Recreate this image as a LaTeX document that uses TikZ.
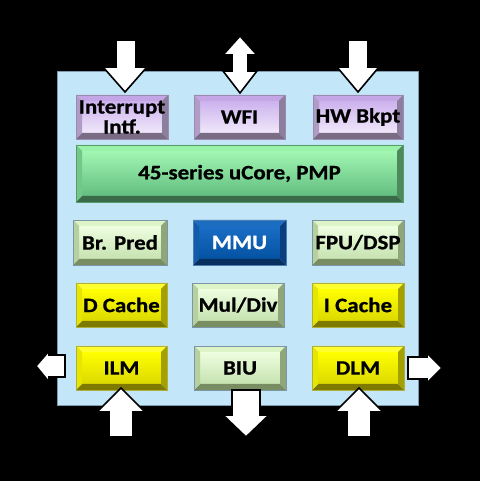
\documentclass[tikz,border=0pt]{standalone}
\usepackage{fontspec}
\setmainfont{Carlito}[FakeStretch=1.12, BoldFeatures={FakeBold=0.8}]
\definecolor{bgblue}{HTML}{C3E6F8}
\definecolor{bgline}{HTML}{7E9AAE}
% purple
\definecolor{purT}{HTML}{C4A6E6}\definecolor{purL}{HTML}{B09CC4}\definecolor{purR}{HTML}{8E7E9E}\definecolor{purB}{HTML}{7A6C84}
\definecolor{purFA}{HTML}{CDB2EE}\definecolor{purFB}{HTML}{F0E8FA}\definecolor{purO}{HTML}{9A8CB0}
% green
\definecolor{grnT}{HTML}{98F2AA}\definecolor{grnL}{HTML}{72C88A}\definecolor{grnR}{HTML}{4C8A5C}\definecolor{grnB}{HTML}{3A6A48}
\definecolor{grnFA}{HTML}{A2F6B2}\definecolor{grnFB}{HTML}{62BE80}\definecolor{grnO}{HTML}{5A9A6A}
% pale green
\definecolor{pglT}{HTML}{DCF4C6}\definecolor{pglL}{HTML}{B6D0A0}\definecolor{pglR}{HTML}{8EA678}\definecolor{pglB}{HTML}{788E62}
\definecolor{pglFA}{HTML}{EEFEE0}\definecolor{pglFB}{HTML}{C6E2B0}\definecolor{pglO}{HTML}{7C96A8}
% dark blue
\definecolor{mmuT}{HTML}{1C6CC0}\definecolor{mmuL}{HTML}{125CAA}\definecolor{mmuR}{HTML}{0A3E7E}\definecolor{mmuB}{HTML}{08305E}
\definecolor{mmuFA}{HTML}{1A6EC6}\definecolor{mmuFB}{HTML}{0452A2}\definecolor{mmuO}{HTML}{4A7EB2}
% yellow
\definecolor{ylwT}{HTML}{FFFF30}\definecolor{ylwL}{HTML}{E6E600}\definecolor{ylwR}{HTML}{A4A000}\definecolor{ylwB}{HTML}{7E7A00}
\definecolor{ylwFA}{HTML}{FFFF00}\definecolor{ylwFB}{HTML}{DCD800}\definecolor{ylwO}{HTML}{B0B040}
\tikzset{
  btntext/.style={font=\fontsize{20.5}{20}\selectfont\bfseries, align=center, inner sep=0pt},
  blockarrow/.style={fill=white, draw=black, line width=1.6pt, line join=miter},
}
% #1 name, #2 x1, #3 y1, #4 x2, #5 y2 (pixel coords, y down), #6 colour set, #7 text, #8 text colour
\newcommand\bvbox[8]{%
  \pgfmathsetmacro\xa{#2}\pgfmathsetmacro\ya{481-#3}%
  \pgfmathsetmacro\xb{#4}\pgfmathsetmacro\yb{481-#5}%
  \def\dd{6}%
  \shade[top color=#6FA, bottom color=#6FB] (\xa+\dd,\yb+\dd) rectangle (\xb-\dd,\ya-\dd);
  \fill[#6T] (\xa,\ya) -- (\xb,\ya) -- (\xb-\dd,\ya-\dd) -- (\xa+\dd,\ya-\dd) -- cycle;
  \fill[#6B] (\xa,\yb) -- (\xb,\yb) -- (\xb-\dd,\yb+\dd) -- (\xa+\dd,\yb+\dd) -- cycle;
  \fill[#6L] (\xa,\ya) -- (\xa+\dd,\ya-\dd) -- (\xa+\dd,\yb+\dd) -- (\xa,\yb) -- cycle;
  \fill[#6R] (\xb,\ya) -- (\xb-\dd,\ya-\dd) -- (\xb-\dd,\yb+\dd) -- (\xb,\yb) -- cycle;
  \draw[#6O, line width=0.7pt] (\xa,\yb) rectangle (\xb,\ya);
  \node[btntext, text=#8] (#1) at ({(\xa+\xb)/2},{(\ya+\yb)/2}) {#7};
}
\begin{document}
\begin{tikzpicture}[x=1pt,y=1pt]
\fill[black] (0,0) rectangle (480,481);
\useasboundingbox (0,0) rectangle (480,481);
% main block
\fill[bgblue, draw=bgline, line width=0.8pt] (57,{481-405}) rectangle (418,{481-71});
% buttons
\bvbox{intr}{76}{95}{168}{139}{pur}{Interrupt\\Intf.}{black}
\bvbox{wfi}{194}{95}{285}{139}{pur}{WFI}{black}
\bvbox{hwb}{313}{95}{403}{139}{pur}{HW Bkpt}{black}
\bvbox{core}{76}{145}{403}{202}{grn}{45-series uCore, PMP}{black}
\bvbox{brp}{73}{220}{167}{265}{pgl}{Br. Pred}{black}
\bvbox{mmu}{193}{220}{286}{265}{mmu}{MMU}{white}
\bvbox{fpu}{312}{220}{404}{265}{pgl}{FPU/DSP}{black}
\bvbox{dca}{76}{283}{167}{327}{ylw}{D Cache}{black}
\bvbox{mul}{192}{283}{284}{327}{pgl}{Mul/Div}{black}
\bvbox{ica}{312}{283}{404}{327}{ylw}{I Cache}{black}
\bvbox{ilm}{76}{346}{167}{390}{ylw}{ILM}{black}
\bvbox{biu}{194}{346}{286}{390}{pgl}{BIU}{black}
\bvbox{dlm}{312}{346}{404}{390}{ylw}{DLM}{black}
% arrows (pixel coords, y down)
\begin{scope}[yscale=-1, yshift=-481pt]
% top: interrupt (down)
\draw[blockarrow] (116,40) -- (136,40) -- (136,67) -- (147,67) -- (125,92) -- (103,67) -- (116,67) -- cycle;
% top: WFI (double)
\draw[blockarrow] (240,36) -- (257,55) -- (248,55) -- (248,71) -- (257,71) -- (240,93) -- (223,71) -- (232,71) -- (232,55) -- (223,55) -- cycle;
% top: HW Bkpt (down)
\draw[blockarrow] (348,40) -- (368,40) -- (368,67) -- (379,67) -- (358,92) -- (337,67) -- (348,67) -- cycle;
% bottom: ILM (up)
\draw[blockarrow] (121,388) -- (145,412) -- (133,412) -- (133,437) -- (109,437) -- (109,412) -- (97,412) -- cycle;
% bottom: BIU (down)
\draw[blockarrow] (232,390) -- (260,390) -- (260,415) -- (269,415) -- (246,437) -- (223,415) -- (232,415) -- cycle;
% bottom: DLM (up)
\draw[blockarrow] (359,388) -- (383,412) -- (371,412) -- (371,437) -- (347,437) -- (347,412) -- (335,412) -- cycle;
% left (ILM side)
\draw[blockarrow] (36,366) -- (49,351) -- (49,355) -- (65,355) -- (65,377) -- (49,377) -- (49,382) -- cycle;
% right (DLM side)
\draw[blockarrow] (408,357) -- (427,357) -- (427,353) -- (442,368) -- (427,383) -- (427,379) -- (408,379) -- cycle;
\end{scope}
\end{tikzpicture}
\end{document}
